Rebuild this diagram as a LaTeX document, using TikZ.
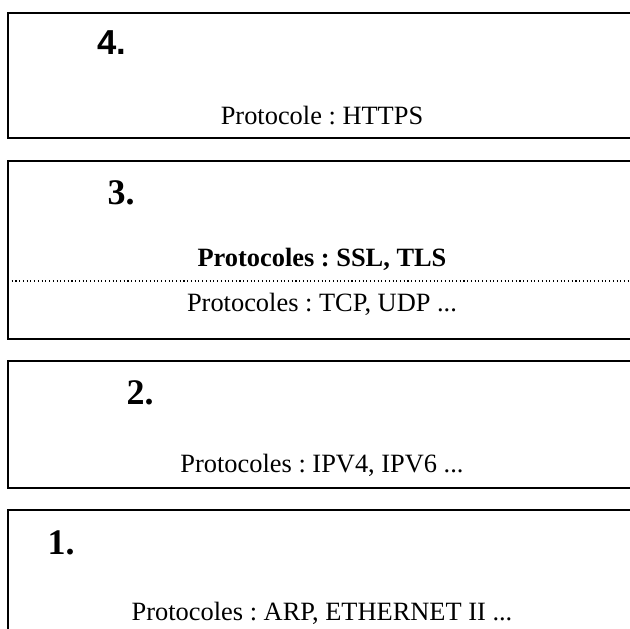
\documentclass[tikz,border=0pt]{standalone}
\usepackage{fontspec}
\setmainfont{Liberation Serif}
\newfontfamily\headsans{Liberation Sans}
\frenchspacing

\begin{document}
\begin{tikzpicture}[x=0.75pt, y=-0.75pt,
	every node/.style={font=\fontsize{19.8}{22}\selectfont, inner sep=0pt},
	layer/.style={draw, line width=1.2pt},
	num/.style={font=\fontsize{27}{30}\selectfont\bfseries}]
	\useasboundingbox (0,0) rectangle (630,628);
	\clip (0,0) rectangle (630,628);
	% the four layers, open on the right
	\foreach \t/\b in {13/138, 161/339, 361/488, 510/660} {
		\draw[layer] (640,\t) -- (8,\t) -- (8,\b) -- (640,\b);
	}
	\draw[dotted, line width=0.8pt] (8,281) -- (640,281);
	% layer numbers
	\node[num, font=\fontsize{26}{30}\selectfont\headsans\bfseries] (n4) at (112,43) {4.};
	\node[num] (n3) at (121,193) {3.};
	\node[num] (n2) at (140,393) {2.};
	\node[num] (n1) at (61,543) {1.};
	% protocols
	\node (https) at (322,116) {Protocole : HTTPS};
	\node[font=\fontsize{19.8}{22}\selectfont\bfseries] (ssl) at (322,259) {Protocoles : SSL, TLS};
	\node (tcp) at (322,304) {Protocoles : TCP, UDP ...};
	\node (ip) at (322,465) {Protocoles : IPV4, IPV6 ...};
	\node (arp) at (322,613) {Protocoles : ARP, ETHERNET II ...};
\end{tikzpicture}
\end{document}
